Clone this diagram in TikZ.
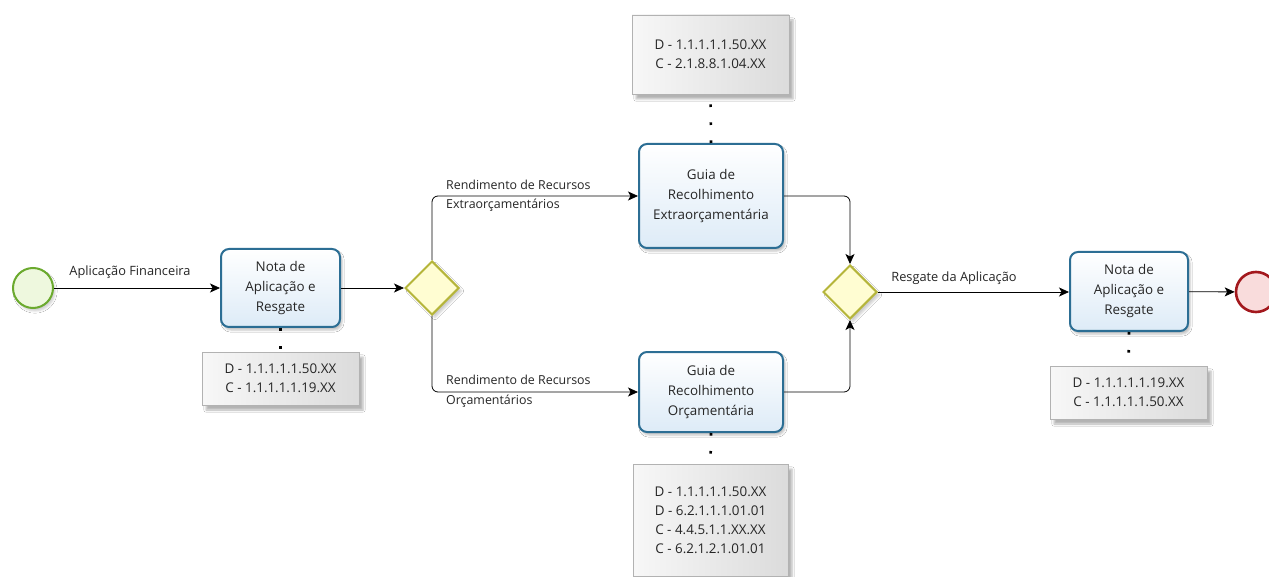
\documentclass[tikz,border=0pt]{standalone}
\usepackage{fontspec}
\setmainfont{Open Sans}
\usetikzlibrary{shapes.geometric,arrows.meta,shadows.blur}
\definecolor{taskblue}{HTML}{2C6E94}
\definecolor{taskfill}{HTML}{DDEBF7}
\definecolor{gwline}{HTML}{B5B53A}
\definecolor{gwfill}{HTML}{FFFDD2}
\definecolor{stline}{HTML}{6BAA2E}
\definecolor{stfill}{HTML}{EEF8DE}
\definecolor{enline}{HTML}{A3181D}
\definecolor{enfill}{HTML}{F9DCDC}
\tikzset{
  every node/.style={font=\fontsize{12.8}{19.5}\selectfont, text=black!85},
  task/.style={draw=taskblue, line width=2pt, rounded corners=8pt, top color=white, bottom color=taskfill, align=center, inner sep=2pt, font=\fontsize{13.4}{20}\selectfont, blur shadow={shadow xshift=2pt, shadow yshift=-3pt, shadow opacity=25}},
  gw/.style={diamond, draw=gwline, line width=2pt, fill=gwfill, minimum width=54pt, minimum height=54pt, inner sep=0pt, blur shadow={shadow xshift=3pt, shadow yshift=-3pt, shadow opacity=20}},
  startev/.style={circle, draw=stline, line width=2pt, fill=stfill, minimum size=40pt, inner sep=0pt, blur shadow={shadow xshift=2pt, shadow yshift=-3pt, shadow opacity=20}},
  endev/.style={circle, draw=enline, line width=2.6pt, fill=enfill, minimum size=40pt, inner sep=0pt},
  annot/.style={draw=black!30, line width=0.6pt, left color=black!3, right color=black!14, align=center, inner sep=2pt, font=\fontsize{13.4}{19}\selectfont, blur shadow={shadow xshift=4pt, shadow yshift=-5pt, shadow opacity=30}},
  flow/.style={draw=black, line width=0.8pt, -{Stealth[length=10pt, width=9pt, inset=2.5pt]}},
  elbow/.style={flow, rounded corners=6pt},
  assoc/.style={draw=black, line width=2.6pt, dash pattern=on 2.6pt off 15.4pt},
  lbl/.style={align=left, inner sep=0pt}
}
\begin{document}
\begin{tikzpicture}[x=1pt, y=-1pt]
\useasboundingbox[fill=white] (0,0) rectangle (1269,577);

% events
\node[startev] (start) at (33,288) {};
\node[endev] (end) at (1256,292) {};

% tasks
\node[task, minimum width=119pt, minimum height=78pt] (t1) at (280.5,288) {Nota de\\Aplicação e\\Resgate};
\node[task, minimum width=144pt, minimum height=104pt] (te) at (711,196) {Guia de\\Recolhimento\\Extraorçamentária};
\node[task, minimum width=144pt, minimum height=80pt] (to) at (711,392) {Guia de\\Recolhimento\\Orçamentária};
\node[task, minimum width=118pt, minimum height=79pt] (t3) at (1129,291.5) {Nota de\\Aplicação e\\Resgate};

% gateways
\node[gw] (g1) at (432,288) {};
\node[gw] (g2) at (850,292) {};

% annotations
\node[annot, minimum width=157pt, minimum height=53pt] (a1) at (280.5,378.5) {D - 1.1.1.1.1.50.XX\\C - 1.1.1.1.1.19.XX};
\node[annot, minimum width=157pt, minimum height=79pt] (ae) at (710.5,54.5) {D - 1.1.1.1.1.50.XX\\C - 2.1.8.8.1.04.XX};
\node[annot, minimum width=155pt, minimum height=112pt] (ao) at (710.5,520) {D - 1.1.1.1.1.50.XX\\D - 6.2.1.1.1.01.01\\C - 4.4.5.1.1.XX.XX\\C - 6.2.1.2.1.01.01};
\node[annot, minimum width=157pt, minimum height=53pt] (a3) at (1128.5,392.5) {D - 1.1.1.1.1.19.XX\\C - 1.1.1.1.1.50.XX};

% associations
\draw[assoc] (t1.south) -- (a1.north);
\draw[assoc] (te.north) -- (ae.south);
\draw[assoc] (to.south) -- (ao.north);
\draw[assoc] (t3.south) -- (a3.north);

% flows
\draw[flow] (start) -- (t1);
\draw[flow] (t1) -- (g1);
\draw[elbow] (g1.north) |- (te.west);
\draw[elbow] (g1.south) |- (to.west);
\draw[elbow] (te.east) -| (g2.north);
\draw[elbow] (to.east) -| (g2.south);
\draw[flow] (g2.east) -- (g2.east -| t3.west);
\draw[flow] (t3) -- (end);

% flow labels
\node[lbl] (l1) at (130,272) {Aplicação Financeira};
\node[lbl, anchor=west, font=\fontsize{12.4}{19.5}\selectfont] (l2) at (446,196) {Rendimento de Recursos\\Extraorçamentários};
\node[lbl, anchor=west, font=\fontsize{12.4}{19.5}\selectfont] (l3) at (446,391.5) {Rendimento de Recursos\\Orçamentários};
\node[lbl] (l4) at (954,278) {Resgate da Aplicação};
\end{tikzpicture}
\end{document}
